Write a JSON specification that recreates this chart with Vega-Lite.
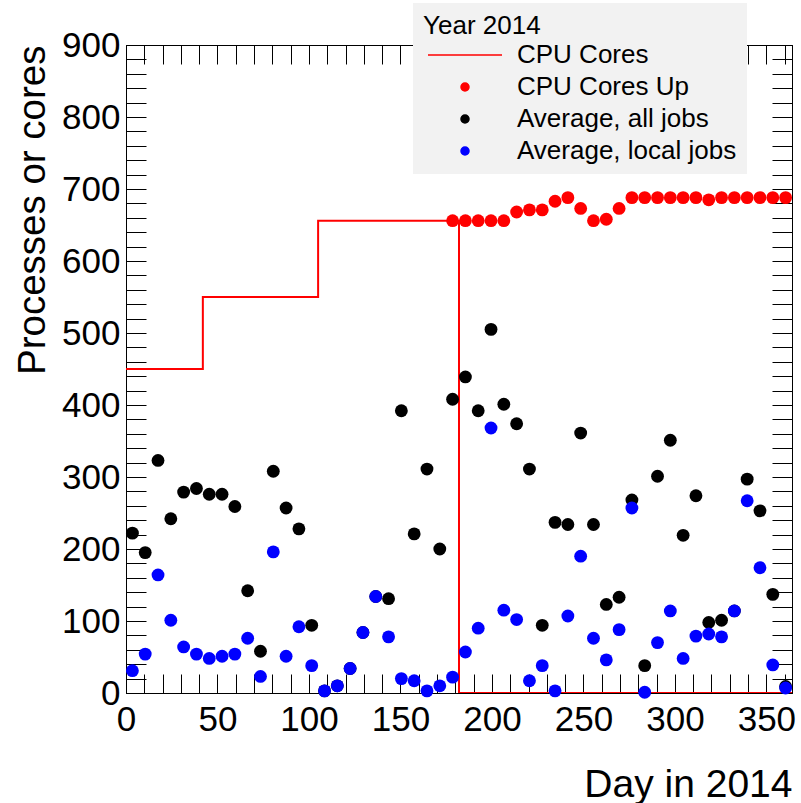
{
  "$schema": "https://vega.github.io/schema/vega-lite/v6.json",
  "width": 666,
  "height": 648,
  "autosize": {"type": "none"},
  "padding": {"left": 126, "top": 45, "right": 9, "bottom": 110},
  "background": "white",
  "config": {"view": {"stroke": "black", "strokeWidth": 1}, "font": "Liberation Sans"},
  "datasets": {
    "cores": [
      {"series": "CPU Cores", "day": 0, "value": 450},
      {"series": "CPU Cores", "day": 42, "value": 550},
      {"series": "CPU Cores", "day": 105, "value": 656},
      {"series": "CPU Cores", "day": 182, "value": 0},
      {"series": "CPU Cores", "day": 364, "value": 0}
    ],
    "points": [
      {"series": "CPU Cores Up", "day": 178.5, "value": 656},
      {"series": "CPU Cores Up", "day": 185.5, "value": 656},
      {"series": "CPU Cores Up", "day": 192.5, "value": 656},
      {"series": "CPU Cores Up", "day": 199.5, "value": 656},
      {"series": "CPU Cores Up", "day": 206.5, "value": 656},
      {"series": "CPU Cores Up", "day": 213.5, "value": 668},
      {"series": "CPU Cores Up", "day": 220.5, "value": 671},
      {"series": "CPU Cores Up", "day": 227.5, "value": 671},
      {"series": "CPU Cores Up", "day": 234.5, "value": 683},
      {"series": "CPU Cores Up", "day": 241.5, "value": 688},
      {"series": "CPU Cores Up", "day": 248.5, "value": 673},
      {"series": "CPU Cores Up", "day": 255.5, "value": 656},
      {"series": "CPU Cores Up", "day": 262.5, "value": 658},
      {"series": "CPU Cores Up", "day": 269.5, "value": 673},
      {"series": "CPU Cores Up", "day": 276.5, "value": 688},
      {"series": "CPU Cores Up", "day": 283.5, "value": 688},
      {"series": "CPU Cores Up", "day": 290.5, "value": 688},
      {"series": "CPU Cores Up", "day": 297.5, "value": 688},
      {"series": "CPU Cores Up", "day": 304.5, "value": 688},
      {"series": "CPU Cores Up", "day": 311.5, "value": 688},
      {"series": "CPU Cores Up", "day": 318.5, "value": 685},
      {"series": "CPU Cores Up", "day": 325.5, "value": 688},
      {"series": "CPU Cores Up", "day": 332.5, "value": 688},
      {"series": "CPU Cores Up", "day": 339.5, "value": 688},
      {"series": "CPU Cores Up", "day": 346.5, "value": 688},
      {"series": "CPU Cores Up", "day": 353.5, "value": 688},
      {"series": "CPU Cores Up", "day": 360.5, "value": 688},
      {"series": "Average, all jobs", "day": 3.5, "value": 222},
      {"series": "Average, all jobs", "day": 10.5, "value": 195},
      {"series": "Average, all jobs", "day": 17.5, "value": 323},
      {"series": "Average, all jobs", "day": 24.5, "value": 242},
      {"series": "Average, all jobs", "day": 31.5, "value": 279},
      {"series": "Average, all jobs", "day": 38.5, "value": 284},
      {"series": "Average, all jobs", "day": 45.5, "value": 276},
      {"series": "Average, all jobs", "day": 52.5, "value": 276},
      {"series": "Average, all jobs", "day": 59.5, "value": 259},
      {"series": "Average, all jobs", "day": 66.5, "value": 142},
      {"series": "Average, all jobs", "day": 73.5, "value": 58},
      {"series": "Average, all jobs", "day": 80.5, "value": 308},
      {"series": "Average, all jobs", "day": 87.5, "value": 257},
      {"series": "Average, all jobs", "day": 94.5, "value": 228},
      {"series": "Average, all jobs", "day": 101.5, "value": 94},
      {"series": "Average, all jobs", "day": 108.5, "value": 3},
      {"series": "Average, all jobs", "day": 115.5, "value": 10},
      {"series": "Average, all jobs", "day": 122.5, "value": 34},
      {"series": "Average, all jobs", "day": 129.5, "value": 84},
      {"series": "Average, all jobs", "day": 136.5, "value": 134},
      {"series": "Average, all jobs", "day": 143.5, "value": 131},
      {"series": "Average, all jobs", "day": 150.5, "value": 392},
      {"series": "Average, all jobs", "day": 157.5, "value": 221},
      {"series": "Average, all jobs", "day": 164.5, "value": 311},
      {"series": "Average, all jobs", "day": 171.5, "value": 200},
      {"series": "Average, all jobs", "day": 178.5, "value": 408},
      {"series": "Average, all jobs", "day": 185.5, "value": 439},
      {"series": "Average, all jobs", "day": 192.5, "value": 392},
      {"series": "Average, all jobs", "day": 199.5, "value": 505},
      {"series": "Average, all jobs", "day": 206.5, "value": 401},
      {"series": "Average, all jobs", "day": 213.5, "value": 374},
      {"series": "Average, all jobs", "day": 220.5, "value": 311},
      {"series": "Average, all jobs", "day": 227.5, "value": 94},
      {"series": "Average, all jobs", "day": 234.5, "value": 237},
      {"series": "Average, all jobs", "day": 241.5, "value": 234},
      {"series": "Average, all jobs", "day": 248.5, "value": 361},
      {"series": "Average, all jobs", "day": 255.5, "value": 234},
      {"series": "Average, all jobs", "day": 262.5, "value": 123},
      {"series": "Average, all jobs", "day": 269.5, "value": 133},
      {"series": "Average, all jobs", "day": 276.5, "value": 268},
      {"series": "Average, all jobs", "day": 283.5, "value": 38},
      {"series": "Average, all jobs", "day": 290.5, "value": 301},
      {"series": "Average, all jobs", "day": 297.5, "value": 351},
      {"series": "Average, all jobs", "day": 304.5, "value": 219},
      {"series": "Average, all jobs", "day": 311.5, "value": 274},
      {"series": "Average, all jobs", "day": 318.5, "value": 98},
      {"series": "Average, all jobs", "day": 325.5, "value": 101},
      {"series": "Average, all jobs", "day": 332.5, "value": 114},
      {"series": "Average, all jobs", "day": 339.5, "value": 297},
      {"series": "Average, all jobs", "day": 346.5, "value": 253},
      {"series": "Average, all jobs", "day": 353.5, "value": 137},
      {"series": "Average, all jobs", "day": 360.5, "value": 9},
      {"series": "Average, local jobs", "day": 3.5, "value": 31},
      {"series": "Average, local jobs", "day": 10.5, "value": 54},
      {"series": "Average, local jobs", "day": 17.5, "value": 164},
      {"series": "Average, local jobs", "day": 24.5, "value": 101},
      {"series": "Average, local jobs", "day": 31.5, "value": 64},
      {"series": "Average, local jobs", "day": 38.5, "value": 54},
      {"series": "Average, local jobs", "day": 45.5, "value": 48},
      {"series": "Average, local jobs", "day": 52.5, "value": 51},
      {"series": "Average, local jobs", "day": 59.5, "value": 54},
      {"series": "Average, local jobs", "day": 66.5, "value": 76},
      {"series": "Average, local jobs", "day": 73.5, "value": 23},
      {"series": "Average, local jobs", "day": 80.5, "value": 196},
      {"series": "Average, local jobs", "day": 87.5, "value": 51},
      {"series": "Average, local jobs", "day": 94.5, "value": 92},
      {"series": "Average, local jobs", "day": 101.5, "value": 38},
      {"series": "Average, local jobs", "day": 108.5, "value": 3},
      {"series": "Average, local jobs", "day": 115.5, "value": 10},
      {"series": "Average, local jobs", "day": 122.5, "value": 34},
      {"series": "Average, local jobs", "day": 129.5, "value": 84},
      {"series": "Average, local jobs", "day": 136.5, "value": 134},
      {"series": "Average, local jobs", "day": 143.5, "value": 78},
      {"series": "Average, local jobs", "day": 150.5, "value": 20},
      {"series": "Average, local jobs", "day": 157.5, "value": 17},
      {"series": "Average, local jobs", "day": 164.5, "value": 3},
      {"series": "Average, local jobs", "day": 171.5, "value": 10},
      {"series": "Average, local jobs", "day": 178.5, "value": 22},
      {"series": "Average, local jobs", "day": 185.5, "value": 57},
      {"series": "Average, local jobs", "day": 192.5, "value": 90},
      {"series": "Average, local jobs", "day": 199.5, "value": 368},
      {"series": "Average, local jobs", "day": 206.5, "value": 115},
      {"series": "Average, local jobs", "day": 213.5, "value": 102},
      {"series": "Average, local jobs", "day": 220.5, "value": 17},
      {"series": "Average, local jobs", "day": 227.5, "value": 38},
      {"series": "Average, local jobs", "day": 234.5, "value": 3},
      {"series": "Average, local jobs", "day": 241.5, "value": 107},
      {"series": "Average, local jobs", "day": 248.5, "value": 190},
      {"series": "Average, local jobs", "day": 255.5, "value": 76},
      {"series": "Average, local jobs", "day": 262.5, "value": 46},
      {"series": "Average, local jobs", "day": 269.5, "value": 88},
      {"series": "Average, local jobs", "day": 276.5, "value": 257},
      {"series": "Average, local jobs", "day": 283.5, "value": 1},
      {"series": "Average, local jobs", "day": 290.5, "value": 70},
      {"series": "Average, local jobs", "day": 297.5, "value": 114},
      {"series": "Average, local jobs", "day": 304.5, "value": 48},
      {"series": "Average, local jobs", "day": 311.5, "value": 79},
      {"series": "Average, local jobs", "day": 318.5, "value": 82},
      {"series": "Average, local jobs", "day": 325.5, "value": 78},
      {"series": "Average, local jobs", "day": 332.5, "value": 114},
      {"series": "Average, local jobs", "day": 339.5, "value": 267},
      {"series": "Average, local jobs", "day": 346.5, "value": 174},
      {"series": "Average, local jobs", "day": 353.5, "value": 39},
      {"series": "Average, local jobs", "day": 360.5, "value": 7}
    ]
  },
  "layer": [
    {
      "data": {"name": "cores"},
      "mark": {"type": "line", "interpolate": "step-after", "strokeWidth": 2, "clip": true},
      "encoding": {
        "x": {
          "field": "day", "type": "quantitative",
          "scale": {"domain": [0, 364], "nice": false, "zero": false},
          "axis": {
            "orient": "bottom",
            "values": [0,10,20,30,40,50,60,70,80,90,100,110,120,130,140,150,160,170,180,190,200,210,220,230,240,250,260,270,280,290,300,310,320,330,340,350,360],
            "labelExpr": "datum.value % 50 === 0 ? datum.label : ''",
            "grid": false, "ticks": true, "tickSize": -19, "tickColor": "black", "domainColor": "black",
            "labelFont": "Liberation Sans", "labelFontSize": 35, "labelColor": "black",
            "labelPadding": 28, "labelFlush": false, "labelOverlap": false,
            "title": "Day in 2014", "titleFont": "Liberation Sans", "titleFontSize": 39,
            "titleFontWeight": "normal", "titleColor": "black", "titleAnchor": "end", "titlePadding": 28,
            "encode": {"ticks": {"update": {"y2": {"signal": "datum.value % 50 === 0 ? -19 : -9"}}}}
          }
        },
        "y": {
          "field": "value", "type": "quantitative",
          "scale": {"domain": [0, 900], "nice": false, "zero": true},
          "axis": {
            "orient": "left",
            "values": [0,20,40,60,80,100,120,140,160,180,200,220,240,260,280,300,320,340,360,380,400,420,440,460,480,500,520,540,560,580,600,620,640,660,680,700,720,740,760,780,800,820,840,860,880,900],
            "labelExpr": "datum.value % 100 === 0 ? datum.label : ''",
            "grid": false, "ticks": true, "tickSize": -20, "tickColor": "black", "domainColor": "black",
            "labelFont": "Liberation Sans", "labelFontSize": 35, "labelColor": "black",
            "labelPadding": 26, "labelFlush": false, "labelOverlap": false,
            "title": "Processes or cores", "titleFont": "Liberation Sans", "titleFontSize": 38.5,
            "titleFontWeight": "normal", "titleColor": "black", "titleAnchor": "end", "titlePadding": 9,
            "encode": {"ticks": {"update": {"x2": {"signal": "datum.value % 100 === 0 ? 20 : 10"}}}}
          }
        },
        "color": {
          "field": "series", "type": "nominal",
          "scale": {"domain": ["CPU Cores", "CPU Cores Up", "Average, all jobs", "Average, local jobs"], "range": ["#ff0000", "#ff0000", "#000000", "#0000ff"]}
        }
      }
    },
    {
      "data": {"name": "points"},
      "mark": {"type": "point", "filled": true, "size": 165, "opacity": 1},
      "encoding": {
        "x": {
          "field": "day", "type": "quantitative",
          "axis": {
            "orient": "top",
            "values": [0,10,20,30,40,50,60,70,80,90,100,110,120,130,140,150,160,170,180,190,200,210,220,230,240,250,260,270,280,290,300,310,320,330,340,350,360],
            "labels": false, "title": null, "grid": false, "ticks": true, "tickSize": -19, "tickColor": "black", "domainColor": "black",
            "encode": {"ticks": {"update": {"y2": {"signal": "datum.value % 50 === 0 ? 19 : 9"}}}}
          }
        },
        "y": {
          "field": "value", "type": "quantitative",
          "axis": {
            "orient": "right",
            "values": [0,20,40,60,80,100,120,140,160,180,200,220,240,260,280,300,320,340,360,380,400,420,440,460,480,500,520,540,560,580,600,620,640,660,680,700,720,740,760,780,800,820,840,860,880,900],
            "labels": false, "title": null, "grid": false, "ticks": true, "tickSize": -20, "tickColor": "black", "domainColor": "black",
            "encode": {"ticks": {"update": {"x2": {"signal": "datum.value % 100 === 0 ? -20 : -10"}}}}
          }
        },
        "color": {
          "field": "series", "type": "nominal",
          "legend": {
            "title": "Year 2014", "orient": "none", "legendX": 287, "legendY": -42,
            "fillColor": "#f2f2f2", "padding": 10, "strokeColor": null,
            "titleFont": "Liberation Sans", "titleFontSize": 26, "titleFontWeight": "normal", "titleColor": "black", "titlePadding": 3,
            "labelFont": "Liberation Sans", "labelFontSize": 26, "labelColor": "black", "labelLimit": 400,
            "symbolSize": 64, "symbolOffset": 29, "labelOffset": 39, "rowPadding": 6,
            "encode": {
              "symbols": {"update": {
                "stroke": {"scale": "color", "field": "value"},
                "fill": {"scale": "color", "field": "value"},
                "strokeWidth": {"value": 2},
                "opacity": {"value": 1}
              }}
            }
          }
        },
        "shape": {
          "field": "series", "type": "nominal",
          "scale": {"domain": ["CPU Cores", "CPU Cores Up", "Average, all jobs", "Average, local jobs"], "range": ["M-9.25,0L9.25,0", "circle", "circle", "circle"]}
        }
      }
    }
  ],
  "resolve": {"axis": {"x": "independent", "y": "independent"}}
}
